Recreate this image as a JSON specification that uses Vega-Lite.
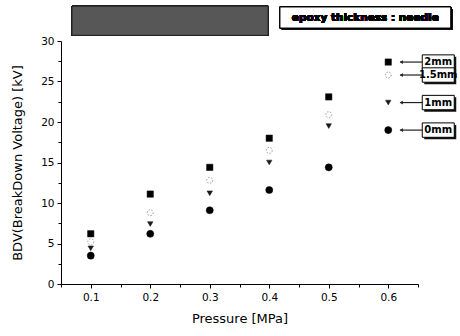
{
  "$schema": "https://vega.github.io/schema/vega-lite/v6.json",
  "width": 357,
  "height": 243,
  "autosize": "none",
  "padding": {"left": 61, "top": 41, "right": 42, "bottom": 52},
  "background": "white",
  "config": {
    "view": {"stroke": null},
    "font": "DejaVu Sans",
    "point": {"opacity": 1},
    "axis": {
      "domainColor": "#000",
      "tickColor": "#000",
      "labelColor": "#000",
      "titleColor": "#000",
      "labelFont": "DejaVu Sans",
      "titleFont": "DejaVu Sans",
      "labelFontSize": 10.5,
      "titleFontSize": 13,
      "titleFontWeight": "normal",
      "grid": false
    }
  },
  "data": {
    "values": [
      {"pressure": 0.1, "series": "2mm", "bdv": 6.2},
      {"pressure": 0.1, "series": "1.5mm", "bdv": 5.2},
      {"pressure": 0.1, "series": "1mm", "bdv": 4.4},
      {"pressure": 0.1, "series": "0mm", "bdv": 3.5},
      {"pressure": 0.2, "series": "2mm", "bdv": 11.1},
      {"pressure": 0.2, "series": "1.5mm", "bdv": 8.8},
      {"pressure": 0.2, "series": "1mm", "bdv": 7.4},
      {"pressure": 0.2, "series": "0mm", "bdv": 6.2},
      {"pressure": 0.3, "series": "2mm", "bdv": 14.4},
      {"pressure": 0.3, "series": "1.5mm", "bdv": 12.8},
      {"pressure": 0.3, "series": "1mm", "bdv": 11.2},
      {"pressure": 0.3, "series": "0mm", "bdv": 9.1},
      {"pressure": 0.4, "series": "2mm", "bdv": 18.0},
      {"pressure": 0.4, "series": "1.5mm", "bdv": 16.5},
      {"pressure": 0.4, "series": "1mm", "bdv": 15.0},
      {"pressure": 0.4, "series": "0mm", "bdv": 11.6},
      {"pressure": 0.5, "series": "2mm", "bdv": 23.1},
      {"pressure": 0.5, "series": "1.5mm", "bdv": 20.9},
      {"pressure": 0.5, "series": "1mm", "bdv": 19.5},
      {"pressure": 0.5, "series": "0mm", "bdv": 14.4},
      {"pressure": 0.6, "series": "2mm", "bdv": 27.4},
      {"pressure": 0.6, "series": "1.5mm", "bdv": 25.8},
      {"pressure": 0.6, "series": "1mm", "bdv": 22.4},
      {"pressure": 0.6, "series": "0mm", "bdv": 19.0}
    ]
  },
  "encoding": {
    "x": {
      "field": "pressure", "type": "quantitative",
      "scale": {"domain": [0.05, 0.65], "nice": false, "zero": false},
      "axis": {
        "title": "Pressure [MPa]",
        "values": [0.05, 0.1, 0.15, 0.2, 0.25, 0.3, 0.35, 0.4, 0.45, 0.5, 0.55, 0.6, 0.65],
        "labelExpr": "abs(datum.value*10 - round(datum.value*10)) < 0.001 ? format(datum.value, '.1f') : ''",
        "tickSize": {"condition": {"test": "abs(datum.value*10 - round(datum.value*10)) < 0.001", "value": 4}, "value": 3},
        "labelPadding": 4,
        "titlePadding": 10,
        "labelFlush": false,
        "labelOverlap": false
      }
    },
    "y": {
      "field": "bdv", "type": "quantitative",
      "scale": {"domain": [0, 30], "nice": false},
      "axis": {
        "title": "BDV(BreakDown Voltage) [kV]",
        "values": [0, 2.5, 5, 7.5, 10, 12.5, 15, 17.5, 20, 22.5, 25, 27.5, 30],
        "labelExpr": "datum.value % 5 === 0 ? datum.value : ''",
        "tickSize": {"condition": {"test": "datum.value % 5 === 0", "value": 4}, "value": 3},
        "labelPadding": 3,
        "titlePadding": 16,
        "labelFlush": false,
        "labelOverlap": false
      }
    }
  },
  "layer": [
    {
      "transform": [{"filter": "datum.series === '1.5mm'"}],
      "mark": {"type": "point", "shape": "circle", "size": 36, "filled": false, "stroke": "#999", "strokeWidth": 1, "strokeDash": [1.5, 1.5], "opacity": 1}
    },
    {
      "transform": [{"filter": "datum.series === '1mm'"}],
      "mark": {"type": "point", "shape": "triangle-down", "size": 30, "filled": true, "fill": "#1a1a1a", "stroke": "#1a1a1a", "strokeWidth": 0.5, "opacity": 1}
    },
    {
      "transform": [{"filter": "datum.series === '2mm'"}],
      "mark": {"type": "point", "shape": "square", "size": 40, "filled": true, "fill": "#000", "stroke": "#000", "strokeWidth": 0.5, "opacity": 1}
    },
    {
      "transform": [{"filter": "datum.series === '0mm'"}],
      "mark": {"type": "point", "shape": "circle", "size": 50, "filled": true, "fill": "#000", "stroke": "#000", "strokeWidth": 0.5, "opacity": 1}
    },
    {
      "transform": [{"filter": "datum.pressure === 0.6"}],
      "mark": {"type": "rule", "color": "#222", "strokeWidth": 1.2, "xOffset": 12, "x2Offset": 34},
      "encoding": {"x2": {"field": "pressure"}}
    },
    {
      "transform": [{"filter": "datum.pressure === 0.6"}],
      "mark": {"type": "point", "shape": "triangle-left", "size": 14, "filled": true, "fill": "#222", "strokeWidth": 0, "xOffset": 13, "opacity": 1}
    },
    {
      "transform": [{"filter": "datum.pressure === 0.6"}],
      "mark": {"type": "point", "shape": "M-1,-0.45H1V0.45H-1Z", "size": 1024, "filled": true, "fill": "#111", "strokeWidth": 0, "xOffset": 52, "yOffset": 2, "opacity": 1}
    },
    {
      "transform": [{"filter": "datum.pressure === 0.6"}],
      "mark": {"type": "point", "shape": "M-1,-0.45H1V0.45H-1Z", "size": 1024, "filled": true, "fill": "white", "stroke": "#000", "strokeWidth": 1, "xOffset": 50, "opacity": 1}
    },
    {
      "transform": [{"filter": "datum.pressure === 0.6"}],
      "mark": {"type": "text", "dx": 50, "align": "center", "baseline": "middle", "fontWeight": "bold", "fontSize": 10, "font": "DejaVu Sans", "color": "#000"},
      "encoding": {"text": {"field": "series"}}
    },
    {
      "mark": {"type": "rect", "fill": "#575757", "stroke": "#222", "strokeWidth": 1},
      "encoding": {
        "x": {"datum": 0.0685, "type": "quantitative"},
        "x2": {"datum": 0.398},
        "y": {"datum": 34.3, "type": "quantitative"},
        "y2": {"datum": 30.7}
      }
    },
    {
      "mark": {"type": "rect", "fill": "#111", "xOffset": 2, "x2Offset": 2, "yOffset": 2, "y2Offset": 2},
      "encoding": {
        "x": {"datum": 0.418, "type": "quantitative"},
        "x2": {"datum": 0.705},
        "y": {"datum": 34.2, "type": "quantitative"},
        "y2": {"datum": 31.6}
      }
    },
    {
      "mark": {"type": "rect", "fill": "white", "stroke": "#000", "strokeWidth": 1},
      "encoding": {
        "x": {"datum": 0.418, "type": "quantitative"},
        "x2": {"datum": 0.705},
        "y": {"datum": 34.2, "type": "quantitative"},
        "y2": {"datum": 31.6}
      }
    },
    {
      "mark": {"type": "text", "text": "epoxy thickness : needle", "align": "center", "baseline": "middle", "fontWeight": "bold", "fontSize": 10.5, "font": "DejaVu Sans", "color": "#000"},
      "encoding": {
        "x": {"datum": 0.5615, "type": "quantitative"},
        "y": {"datum": 32.9, "type": "quantitative"}
      }
    }
  ]
}
